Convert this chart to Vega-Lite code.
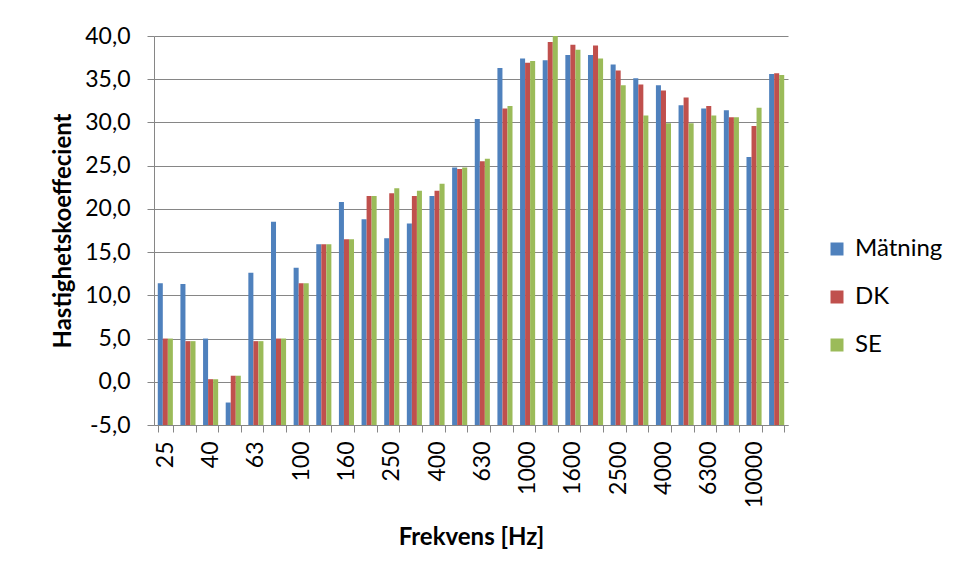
{
  "$schema": "https://vega.github.io/schema/vega-lite/v6.json",
  "width": 634,
  "height": 389,
  "autosize": "none",
  "padding": {"left": 154, "top": 36, "right": 170, "bottom": 156},
  "background": "white",
  "config": {
    "font": "Lato",
    "view": {"stroke": null},
    "axis": {
      "labelColor": "#000000",
      "titleColor": "#000000",
      "domainColor": "#868686",
      "tickColor": "#868686",
      "gridColor": "#868686",
      "labelFont": "Lato",
      "titleFont": "Lato"
    }
  },
  "data": {
    "values": [
      {"freq": "25", "series": "Mätning", "value": 11.4}, {"freq": "25", "series": "DK", "value": 5.0}, {"freq": "25", "series": "SE", "value": 5.0},
      {"freq": "31.5", "series": "Mätning", "value": 11.3}, {"freq": "31.5", "series": "DK", "value": 4.7}, {"freq": "31.5", "series": "SE", "value": 4.7},
      {"freq": "40", "series": "Mätning", "value": 5.0}, {"freq": "40", "series": "DK", "value": 0.3}, {"freq": "40", "series": "SE", "value": 0.3},
      {"freq": "50", "series": "Mätning", "value": -2.4}, {"freq": "50", "series": "DK", "value": 0.7}, {"freq": "50", "series": "SE", "value": 0.7},
      {"freq": "63", "series": "Mätning", "value": 12.6}, {"freq": "63", "series": "DK", "value": 4.7}, {"freq": "63", "series": "SE", "value": 4.7},
      {"freq": "80", "series": "Mätning", "value": 18.5}, {"freq": "80", "series": "DK", "value": 5.0}, {"freq": "80", "series": "SE", "value": 5.0},
      {"freq": "100", "series": "Mätning", "value": 13.2}, {"freq": "100", "series": "DK", "value": 11.4}, {"freq": "100", "series": "SE", "value": 11.4},
      {"freq": "125", "series": "Mätning", "value": 15.9}, {"freq": "125", "series": "DK", "value": 15.9}, {"freq": "125", "series": "SE", "value": 15.9},
      {"freq": "160", "series": "Mätning", "value": 20.8}, {"freq": "160", "series": "DK", "value": 16.5}, {"freq": "160", "series": "SE", "value": 16.5},
      {"freq": "200", "series": "Mätning", "value": 18.8}, {"freq": "200", "series": "DK", "value": 21.5}, {"freq": "200", "series": "SE", "value": 21.5},
      {"freq": "250", "series": "Mätning", "value": 16.6}, {"freq": "250", "series": "DK", "value": 21.8}, {"freq": "250", "series": "SE", "value": 22.4},
      {"freq": "315", "series": "Mätning", "value": 18.3}, {"freq": "315", "series": "DK", "value": 21.5}, {"freq": "315", "series": "SE", "value": 22.1},
      {"freq": "400", "series": "Mätning", "value": 21.5}, {"freq": "400", "series": "DK", "value": 22.1}, {"freq": "400", "series": "SE", "value": 22.9},
      {"freq": "500", "series": "Mätning", "value": 24.8}, {"freq": "500", "series": "DK", "value": 24.6}, {"freq": "500", "series": "SE", "value": 24.8},
      {"freq": "630", "series": "Mätning", "value": 30.4}, {"freq": "630", "series": "DK", "value": 25.5}, {"freq": "630", "series": "SE", "value": 25.8},
      {"freq": "800", "series": "Mätning", "value": 36.3}, {"freq": "800", "series": "DK", "value": 31.6}, {"freq": "800", "series": "SE", "value": 31.9},
      {"freq": "1000", "series": "Mätning", "value": 37.4}, {"freq": "1000", "series": "DK", "value": 36.9}, {"freq": "1000", "series": "SE", "value": 37.1},
      {"freq": "1250", "series": "Mätning", "value": 37.2}, {"freq": "1250", "series": "DK", "value": 39.3}, {"freq": "1250", "series": "SE", "value": 40.0},
      {"freq": "1600", "series": "Mätning", "value": 37.8}, {"freq": "1600", "series": "DK", "value": 39.0}, {"freq": "1600", "series": "SE", "value": 38.4},
      {"freq": "2000", "series": "Mätning", "value": 37.8}, {"freq": "2000", "series": "DK", "value": 38.9}, {"freq": "2000", "series": "SE", "value": 37.4},
      {"freq": "2500", "series": "Mätning", "value": 36.7}, {"freq": "2500", "series": "DK", "value": 36.0}, {"freq": "2500", "series": "SE", "value": 34.3},
      {"freq": "3150", "series": "Mätning", "value": 35.1}, {"freq": "3150", "series": "DK", "value": 34.4}, {"freq": "3150", "series": "SE", "value": 30.8},
      {"freq": "4000", "series": "Mätning", "value": 34.3}, {"freq": "4000", "series": "DK", "value": 33.7}, {"freq": "4000", "series": "SE", "value": 29.9},
      {"freq": "5000", "series": "Mätning", "value": 32.0}, {"freq": "5000", "series": "DK", "value": 32.9}, {"freq": "5000", "series": "SE", "value": 29.9},
      {"freq": "6300", "series": "Mätning", "value": 31.6}, {"freq": "6300", "series": "DK", "value": 31.9}, {"freq": "6300", "series": "SE", "value": 30.8},
      {"freq": "8000", "series": "Mätning", "value": 31.4}, {"freq": "8000", "series": "DK", "value": 30.6}, {"freq": "8000", "series": "SE", "value": 30.6},
      {"freq": "10000", "series": "Mätning", "value": 26.0}, {"freq": "10000", "series": "DK", "value": 29.6}, {"freq": "10000", "series": "SE", "value": 31.7},
      {"freq": "12500", "series": "Mätning", "value": 35.6}, {"freq": "12500", "series": "DK", "value": 35.7}, {"freq": "12500", "series": "SE", "value": 35.5}
    ]
  },
  "mark": {"type": "bar"},
  "encoding": {
    "x": {
      "field": "freq",
      "type": "nominal",
      "sort": ["25","31.5","40","50","63","80","100","125","160","200","250","315","400","500","630","800","1000","1250","1600","2000","2500","3150","4000","5000","6300","8000","10000","12500"],
      "scale": {"paddingInner": 0.3333, "paddingOuter": 0.1667},
      "axis": {
        "title": "Frekvens [Hz]",
        "titleFontSize": 24,
        "titleFontWeight": "bold",
        "titlePadding": 18,
        "labelAngle": -90,
        "labelFontSize": 23,
        "labelPadding": 9,
        "labelOverlap": false,
        "labelBound": false,
        "labelExpr": "indexof(['25','40','63','100','160','250','400','630','1000','1600','2500','4000','6300','10000'], datum.value) >= 0 ? datum.value : ''",
        "tickBand": "extent",
        "tickSize": 7,
        "grid": false
      }
    },
    "xOffset": {
      "field": "series",
      "sort": ["Mätning", "DK", "SE"],
      "scale": {"paddingInner": 0, "paddingOuter": 0}
    },
    "y": {
      "field": "value",
      "type": "quantitative",
      "scale": {"domain": [-5, 40], "nice": false, "zero": false},
      "axis": {
        "title": "Hastighetskoeffecient",
        "titleFontSize": 24,
        "titleFontWeight": "bold",
        "titlePadding": 9,
        "values": [-5, 0, 5, 10, 15, 20, 25, 30, 35, 40],
        "labelExpr": "replace(replace(format(datum.value, '.1f'), '.', ','), '\u2212', '-')",
        "labelFontSize": 23,
        "labelPadding": 17,
        "tickSize": 7,
        "grid": true,
        "domain": true
      }
    },
    "y2": {"datum": -5},
    "color": {
      "field": "series",
      "type": "nominal",
      "scale": {"domain": ["Mätning", "DK", "SE"], "range": ["#4F81BD", "#C0504D", "#9BBB59"]},
      "legend": {
        "title": null,
        "orient": "none",
        "legendX": 671,
        "legendY": 201,
        "symbolType": "square",
        "symbolSize": 169,
        "symbolStrokeWidth": 0,
        "labelFontSize": 24,
        "labelColor": "#000000",
        "labelOffset": 6,
        "rowPadding": 24
      }
    }
  }
}
